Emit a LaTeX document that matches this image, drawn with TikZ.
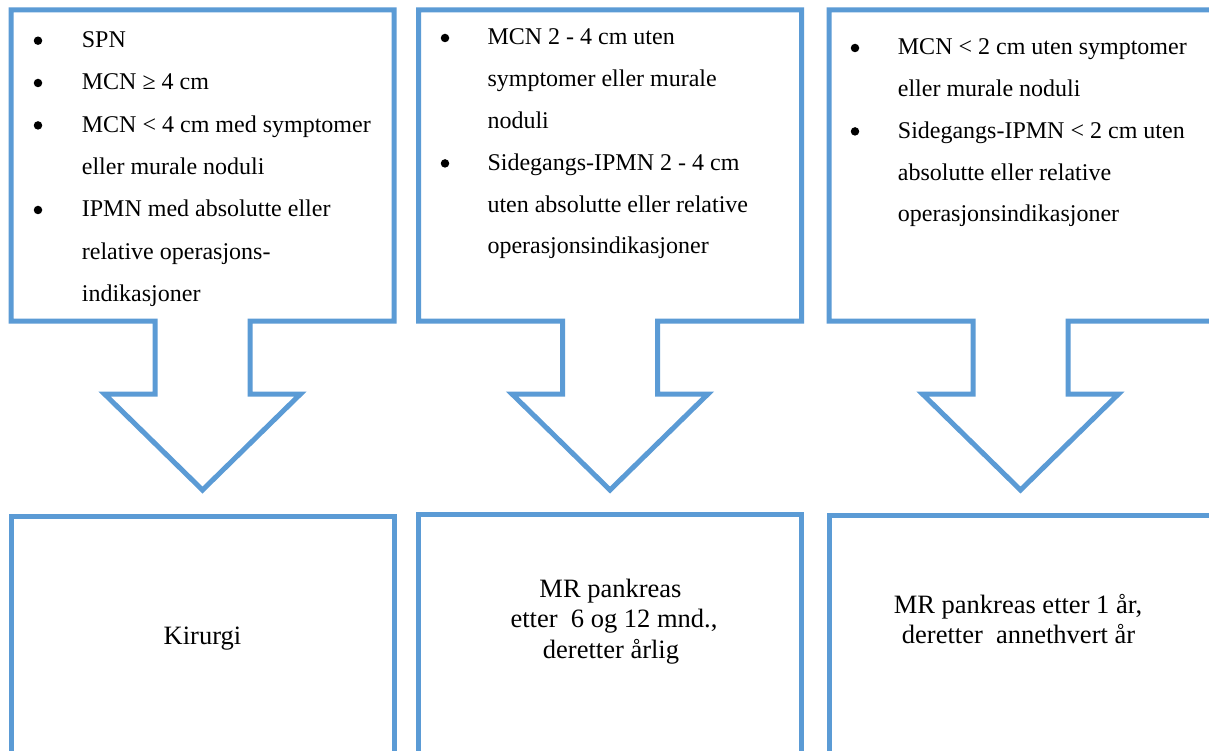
\documentclass[tikz,border=0pt]{standalone}
\usepackage{fontspec}
\setmainfont{Liberation Serif}
\usetikzlibrary{calc}
\definecolor{boxblue}{RGB}{91,155,213}
\tikzset{
  frame/.style={draw=boxblue, line width=5pt, line join=miter},
  holder/.style={draw=none, inner sep=0pt, outer sep=0pt, minimum width=383pt, minimum height=311pt},
  lowbox/.style={draw=boxblue, line width=5pt, inner sep=0pt, outer sep=0pt, minimum width=383pt, minimum height=300pt, anchor=north},
  toptext/.style={anchor=base west, inner sep=0pt, font=\fontsize{24pt}{28pt}\selectfont},
  bul/.style={circle, fill=black, inner sep=0pt, minimum size=8.5pt, yshift=7pt},
  lowtext/.style={anchor=base, inner sep=0pt, font=\fontsize{26.5pt}{30pt}\selectfont}
}
\newcommand{\calloutpath}[1]{%
  \draw[frame] (#1.north west) -- (#1.north east) -- (#1.south east)
    -- ([xshift=47.5pt]#1.south) -- ([xshift=47.5pt,yshift=-73pt]#1.south)
    -- ([xshift=98pt,yshift=-73pt]#1.south) -- ([yshift=-169pt]#1.south)
    -- ([xshift=-98pt,yshift=-73pt]#1.south) -- ([xshift=-47.5pt,yshift=-73pt]#1.south)
    -- ([xshift=-47.5pt]#1.south) -- (#1.south west) -- cycle;}
\begin{document}
\begin{tikzpicture}[x=1pt,y=-1pt]
\useasboundingbox (0,0) rectangle (1209,751);
\clip (0,0) rectangle (1209,751);
\fill[white] (0,0) rectangle (1209,751);

% top callout boxes
\node[holder] (top1) at (202.5,165.5) {};
\node[holder] (top2) at (610,165.5) {};
\node[holder] (top3) at (1020.5,165.5) {};
\calloutpath{top1}
\calloutpath{top2}
\calloutpath{top3}

% bottom boxes
\node[lowbox] (bot1) at (202.5,516) {};
\node[lowbox] (bot2) at (610,514) {};
\node[lowbox] (bot3) at (1020.5,515.5) {};

% box 1 text
\node[bul] (b11) at (38,47.7) {};
\node[toptext] (t11) at (81.7,47.7) {SPN};
\node[bul] (b12) at (38,90.0) {};
\node[toptext] (t12) at (81.7,90.0) {MCN ≥ 4 cm};
\node[bul] (b13) at (38,132.4) {};
\node[toptext] (t13) at (81.7,132.4) {MCN < 4 cm med symptomer};
\node[toptext] (t14) at (81.7,174.7) {eller murale noduli};
\node[bul] (b15) at (38,217.0) {};
\node[toptext] (t15) at (81.7,217.0) {IPMN med absolutte eller};
\node[toptext] (t16) at (81.7,259.4) {relative operasjons-};
\node[toptext] (t17) at (81.7,301.7) {indikasjoner};

% box 2 text
\node[bul] (b21) at (445,45) {};
\node[toptext] (t21) at (487.3,45) {MCN 2 - 4 cm uten};
\node[toptext] (t22) at (487.3,86.8) {symptomer eller murale};
\node[toptext] (t23) at (487.3,128.6) {noduli};
\node[bul] (b24) at (445,170.4) {};
\node[toptext] (t24) at (487.3,170.4) {Sidegangs-IPMN 2 - 4 cm};
\node[toptext] (t25) at (487.3,212.2) {uten absolutte eller relative};
\node[toptext] (t26) at (487.3,254) {operasjonsindikasjoner};

% box 3 text
\node[bul] (b31) at (855,55) {};
\node[toptext] (t31) at (897.7,55) {MCN < 2 cm uten symptomer};
\node[toptext] (t32) at (897.7,96.7) {eller murale noduli};
\node[bul] (b33) at (855,138.4) {};
\node[toptext] (t33) at (897.7,138.4) {Sidegangs-IPMN < 2 cm uten};
\node[toptext] (t34) at (897.7,180.1) {absolutte eller relative};
\node[toptext] (t35) at (897.7,221.8) {operasjonsindikasjoner};

% bottom texts
\node[lowtext] (k1) at (202.5,644.3) {Kirurgi};
\node[lowtext] (m1) at (610.5,597) {MR pankreas};
\node[lowtext] (m2) at (614,627.5) {etter\ \ 6 og 12 mnd.,};
\node[lowtext] (m3) at (611,658) {deretter årlig};
\node[lowtext] (n1) at (1018,613.3) {MR pankreas etter 1 år,};
\node[lowtext] (n2) at (1018.5,643.3) {deretter\ \ annethvert år};
\end{tikzpicture}
\end{document}
